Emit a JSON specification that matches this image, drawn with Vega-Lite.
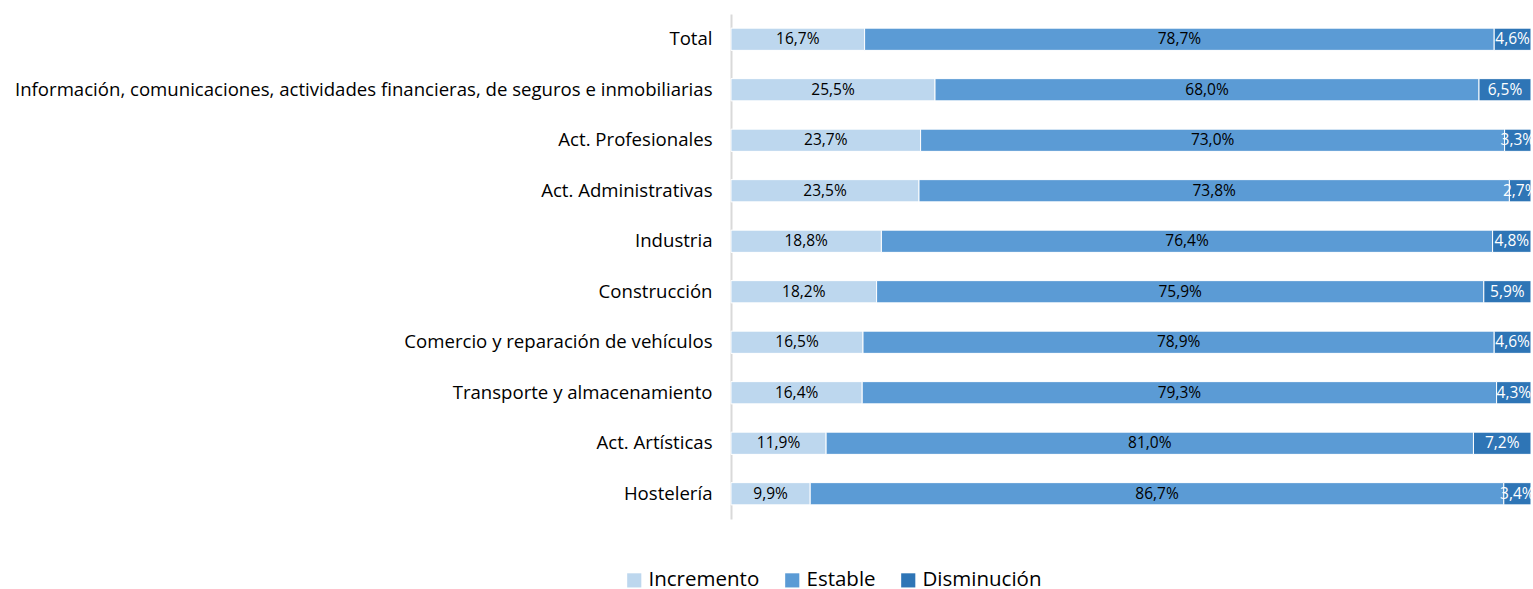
{
  "$schema": "https://vega.github.io/schema/vega-lite/v6.json",
  "autosize": {"type": "none"},
  "width": 800,
  "height": 505,
  "padding": {"left": 731, "top": 14, "right": 2, "bottom": 70},
  "background": "white",
  "config": {"view": {"stroke": null}, "font": "Open Sans"},
  "data": {"values": [
    {"sector": "Total", "tipo": "Incremento", "orden": 1, "valor": 16.7, "etiqueta": "16,7%"},
    {"sector": "Total", "tipo": "Estable", "orden": 2, "valor": 78.7, "etiqueta": "78,7%"},
    {"sector": "Total", "tipo": "Disminución", "orden": 3, "valor": 4.6, "etiqueta": "4,6%"},
    {"sector": "Información, comunicaciones, actividades financieras, de seguros e inmobiliarias", "tipo": "Incremento", "orden": 1, "valor": 25.5, "etiqueta": "25,5%"},
    {"sector": "Información, comunicaciones, actividades financieras, de seguros e inmobiliarias", "tipo": "Estable", "orden": 2, "valor": 68.0, "etiqueta": "68,0%"},
    {"sector": "Información, comunicaciones, actividades financieras, de seguros e inmobiliarias", "tipo": "Disminución", "orden": 3, "valor": 6.5, "etiqueta": "6,5%"},
    {"sector": "Act. Profesionales", "tipo": "Incremento", "orden": 1, "valor": 23.7, "etiqueta": "23,7%"},
    {"sector": "Act. Profesionales", "tipo": "Estable", "orden": 2, "valor": 73.0, "etiqueta": "73,0%"},
    {"sector": "Act. Profesionales", "tipo": "Disminución", "orden": 3, "valor": 3.3, "etiqueta": "3,3%"},
    {"sector": "Act. Administrativas", "tipo": "Incremento", "orden": 1, "valor": 23.5, "etiqueta": "23,5%"},
    {"sector": "Act. Administrativas", "tipo": "Estable", "orden": 2, "valor": 73.8, "etiqueta": "73,8%"},
    {"sector": "Act. Administrativas", "tipo": "Disminución", "orden": 3, "valor": 2.7, "etiqueta": "2,7%"},
    {"sector": "Industria", "tipo": "Incremento", "orden": 1, "valor": 18.8, "etiqueta": "18,8%"},
    {"sector": "Industria", "tipo": "Estable", "orden": 2, "valor": 76.4, "etiqueta": "76,4%"},
    {"sector": "Industria", "tipo": "Disminución", "orden": 3, "valor": 4.8, "etiqueta": "4,8%"},
    {"sector": "Construcción", "tipo": "Incremento", "orden": 1, "valor": 18.2, "etiqueta": "18,2%"},
    {"sector": "Construcción", "tipo": "Estable", "orden": 2, "valor": 75.9, "etiqueta": "75,9%"},
    {"sector": "Construcción", "tipo": "Disminución", "orden": 3, "valor": 5.9, "etiqueta": "5,9%"},
    {"sector": "Comercio y reparación de vehículos", "tipo": "Incremento", "orden": 1, "valor": 16.5, "etiqueta": "16,5%"},
    {"sector": "Comercio y reparación de vehículos", "tipo": "Estable", "orden": 2, "valor": 78.9, "etiqueta": "78,9%"},
    {"sector": "Comercio y reparación de vehículos", "tipo": "Disminución", "orden": 3, "valor": 4.6, "etiqueta": "4,6%"},
    {"sector": "Transporte y almacenamiento", "tipo": "Incremento", "orden": 1, "valor": 16.4, "etiqueta": "16,4%"},
    {"sector": "Transporte y almacenamiento", "tipo": "Estable", "orden": 2, "valor": 79.3, "etiqueta": "79,3%"},
    {"sector": "Transporte y almacenamiento", "tipo": "Disminución", "orden": 3, "valor": 4.3, "etiqueta": "4,3%"},
    {"sector": "Act. Artísticas", "tipo": "Incremento", "orden": 1, "valor": 11.9, "etiqueta": "11,9%"},
    {"sector": "Act. Artísticas", "tipo": "Estable", "orden": 2, "valor": 81.0, "etiqueta": "81,0%"},
    {"sector": "Act. Artísticas", "tipo": "Disminución", "orden": 3, "valor": 7.2, "etiqueta": "7,2%"},
    {"sector": "Hostelería", "tipo": "Incremento", "orden": 1, "valor": 9.9, "etiqueta": "9,9%"},
    {"sector": "Hostelería", "tipo": "Estable", "orden": 2, "valor": 86.7, "etiqueta": "86,7%"},
    {"sector": "Hostelería", "tipo": "Disminución", "orden": 3, "valor": 3.4, "etiqueta": "3,4%"}
  ]},
  "transform": [
    {"stack": "valor", "groupby": ["sector"], "sort": [{"field": "orden", "order": "ascending"}], "offset": "normalize", "as": ["x0", "x1"]},
    {"calculate": "(datum.x0 + datum.x1) / 2", "as": "xmid"}
  ],
  "encoding": {
    "y": {
      "field": "sector", "type": "nominal",
      "sort": ["Total", "Información, comunicaciones, actividades financieras, de seguros e inmobiliarias", "Act. Profesionales", "Act. Administrativas", "Industria", "Construcción", "Comercio y reparación de vehículos", "Transporte y almacenamiento", "Act. Artísticas", "Hostelería"],
      "scale": {"paddingInner": 0.56, "paddingOuter": 0.28},
      "axis": {"title": null, "ticks": false, "domainColor": "#d9d9d9", "domainWidth": 2, "labelFontSize": 18.6, "labelColor": "#000000", "labelPadding": 19, "labelLimit": 800, "labelFont": "Open Sans"}
    }
  },
  "layer": [
    {
      "mark": {"type": "bar", "stroke": "white", "strokeWidth": 1},
      "encoding": {
        "x": {"field": "x0", "type": "quantitative", "scale": {"domain": [0, 1]}, "axis": null},
        "x2": {"field": "x1"},
        "color": {
          "field": "tipo", "type": "nominal",
          "scale": {"domain": ["Incremento", "Estable", "Disminución"], "range": ["#BDD7EE", "#5B9BD5", "#2E75B6"]},
          "legend": {"title": null, "orient": "none", "direction": "horizontal", "legendX": -107, "legendY": 556, "labelFontSize": 20.5, "labelColor": "#000000", "symbolType": "square", "symbolSize": 200, "symbolStrokeWidth": 0, "columnPadding": 22, "labelOffset": 4, "labelFont": "Open Sans"}
        }
      }
    },
    {
      "mark": {"type": "text", "fontSize": 15.5, "align": "center", "baseline": "middle"},
      "encoding": {
        "x": {"field": "xmid", "type": "quantitative", "scale": {"domain": [0, 1]}},
        "text": {"field": "etiqueta"},
        "color": {"condition": {"test": "datum.tipo === 'Disminución'", "value": "white"}, "value": "#000000"}
      }
    }
  ]
}
